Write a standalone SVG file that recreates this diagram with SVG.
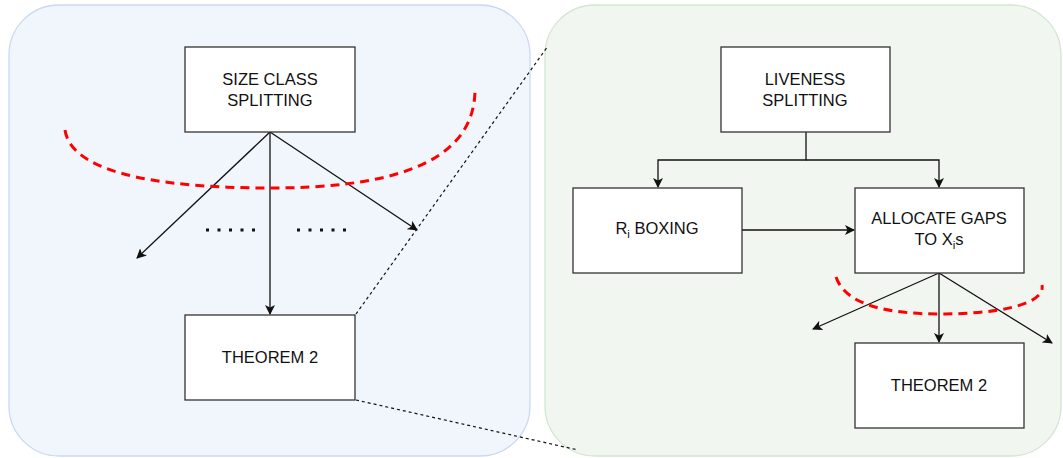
<svg xmlns="http://www.w3.org/2000/svg" width="1063" height="458" viewBox="0 0 1063 458">
<style>
.box{fill:#ffffff;stroke:#333333;stroke-width:1.3}
.t{font-family:"Liberation Sans",Arial,sans-serif;font-size:16.5px;fill:#111111;text-anchor:middle}
.c{fill:none;stroke:#111111;stroke-width:1.3}
.red{fill:none;stroke:#ff0000;stroke-width:3;stroke-dasharray:9 6}
.zoom{fill:none;stroke:#111111;stroke-width:1.2;stroke-dasharray:3 3}
.dots{fill:none;stroke:#111111;stroke-width:3;stroke-dasharray:3 8.5}
</style>
<defs>
<marker id="ah" viewBox="0 0 10 10" refX="9" refY="5" markerWidth="10" markerHeight="10" markerUnits="userSpaceOnUse" orient="auto">
<path d="M0,0 L10,5 L0,10 L2.5,5 Z" fill="#111111"/>
</marker>
</defs>
<g id="left-panel">
<rect x="9" y="5" width="521" height="451" rx="50" ry="50" fill="#f1f6fd" stroke="#cbd9ef" stroke-width="1.3"/>
</g>
<g id="right-panel">
<rect x="545" y="5" width="516" height="451" rx="50" ry="50" fill="#f1f7f0" stroke="#d3e6d1" stroke-width="1.3"/>
</g>
<g id="connectors">
<line class="zoom" x1="356" y1="314" x2="548" y2="46"/>
<line class="zoom" x1="356" y1="400" x2="578" y2="450"/>
<line class="c" x1="270" y1="132" x2="270" y2="314" marker-end="url(#ah)"/>
<line class="c" x1="270" y1="132" x2="137" y2="258" marker-end="url(#ah)"/>
<line class="c" x1="270" y1="132" x2="417" y2="230" marker-end="url(#ah)"/>
<line class="dots" x1="206" y1="230" x2="256" y2="230"/>
<line class="dots" x1="297" y1="230" x2="347" y2="230"/>
<path class="red" d="M65,130 C72,178 180,188 270,188 C380,188 476,168 475,88"/>
<path class="c" d="M806,132 L806,160 L658,160 L658,187" marker-end="url(#ah)"/>
<path class="c" d="M806,160 L939,160 L939,187" marker-end="url(#ah)"/>
<line class="c" x1="742" y1="230" x2="854" y2="230" marker-end="url(#ah)"/>
<line class="c" x1="939" y1="273" x2="939" y2="342" marker-end="url(#ah)"/>
<line class="c" x1="939" y1="273" x2="813" y2="329" marker-end="url(#ah)"/>
<line class="c" x1="939" y1="273" x2="1052" y2="343" marker-end="url(#ah)"/>
<path class="red" d="M836,277 C846,306 890,314 940,314 C992,314 1046,306 1042,285"/>
</g>
<g id="size-class-splitting">
<rect class="box" x="185" y="47" width="170" height="85"/>
<text class="t" x="270" y="85">SIZE CLASS</text>
<text class="t" x="270" y="106">SPLITTING</text>
</g>
<g id="theorem2-left">
<rect class="box" x="185" y="315" width="170" height="85"/>
<text class="t" x="270" y="363">THEOREM 2</text>
</g>
<g id="liveness-splitting">
<rect class="box" x="721" y="47" width="169" height="85"/>
<text class="t" x="805" y="85">LIVENESS</text>
<text class="t" x="805" y="106">SPLITTING</text>
</g>
<g id="ri-boxing">
<rect class="box" x="573" y="188" width="169" height="85"/>
<text class="t" x="657" y="234">R<tspan font-size="11.5" dy="4">i</tspan><tspan dy="-4"> BOXING</tspan></text>
</g>
<g id="allocate-gaps">
<rect class="box" x="855" y="188" width="169" height="85"/>
<text class="t" x="939" y="224">ALLOCATE GAPS</text>
<text class="t" x="939" y="245">TO X<tspan font-size="11.5" dy="4">i</tspan><tspan dy="-4">s</tspan></text>
</g>
<g id="theorem2-right">
<rect class="box" x="855" y="343" width="169" height="85"/>
<text class="t" x="939" y="391">THEOREM 2</text>
</g>
</svg>
